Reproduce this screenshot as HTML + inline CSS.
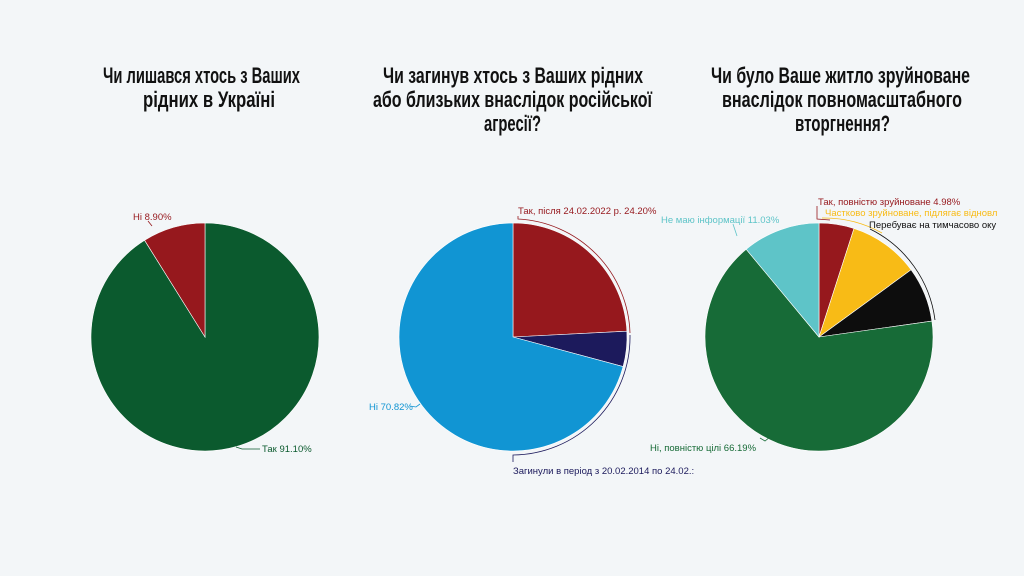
<!DOCTYPE html>
<html><head><meta charset="utf-8"><style>
html,body{margin:0;padding:0;background:#f3f6f8;}
svg{display:block}
.t{font-family:"Liberation Sans Narrow","Liberation Sans",sans-serif;font-weight:900;font-size:22px;fill:#111}
.l{font-family:"Liberation Sans","DejaVu Sans",sans-serif;font-size:9.5px}
</style></head><body>
<svg width="1024" height="576" viewBox="0 0 1024 576">
<rect width="1024" height="576" fill="#f3f6f8"/>
<text class="t" x="103" y="83" textLength="197" lengthAdjust="spacingAndGlyphs">Чи лишався хтось з Ваших</text>
<text class="t" x="143" y="107" textLength="132" lengthAdjust="spacingAndGlyphs">рідних в Україні</text>
<text class="t" x="383" y="83" textLength="260" lengthAdjust="spacingAndGlyphs">Чи загинув хтось з Ваших рідних</text>
<text class="t" x="373" y="107" textLength="279" lengthAdjust="spacingAndGlyphs">або близьких внаслідок російської</text>
<text class="t" x="484" y="131" textLength="57" lengthAdjust="spacingAndGlyphs">агресії?</text>
<text class="t" x="711" y="83" textLength="259" lengthAdjust="spacingAndGlyphs">Чи було Ваше житло зруйноване</text>
<text class="t" x="722" y="107" textLength="240" lengthAdjust="spacingAndGlyphs">внаслідок повномасштабного</text>
<text class="t" x="795" y="131" textLength="95" lengthAdjust="spacingAndGlyphs">вторгнення?</text>

<g stroke="#fff" stroke-width="0.6">
<path d="M205,337 L205,223 A114,114 0 1 1 144.6,240.3 Z" fill="#0b5a2e"/>
<path d="M205,337 L144.6,240.3 A114,114 0 0 1 205,223 Z" fill="#96181d"/>

<path d="M513,337 L513,223 A114,114 0 0 1 626.9,331.2 Z" fill="#96181d"/>
<path d="M513,337 L626.9,331.2 A114,114 0 0 1 623.1,366.6 Z" fill="#1c1a5c"/>
<path d="M513,337 L623.1,366.6 A114,114 0 1 1 513,223 Z" fill="#1195d3"/>

<path d="M819,337 L819,223 A114,114 0 0 1 854.0,228.5 Z" fill="#96181d"/>
<path d="M819,337 L854.0,228.5 A114,114 0 0 1 911.1,269.8 Z" fill="#f8bb16"/>
<path d="M819,337 L911.1,269.8 A114,114 0 0 1 931.9,321.1 Z" fill="#0d0d0d"/>
<path d="M819,337 L931.9,321.1 A114,114 0 1 1 746.2,249.3 Z" fill="#176b37"/>
<path d="M819,337 L746.2,249.3 A114,114 0 0 1 819,223 Z" fill="#5ec4c8"/>
</g>

<g fill="none" stroke-width="0.8">
<path d="M148,221 L152,226" stroke="#96181d"/>
<path d="M236,447 L242,449 L260,449" stroke="#0b5a2e"/>
<path d="M518,216 L518,219 A118,118 0 0 1 630,333" stroke="#96181d"/>
<path d="M630,335 A118,118 0 0 1 513,455 L513,462" stroke="#1c1a5c"/>
<path d="M410,406 L416,407 L420,404" stroke="#1195d3"/>
<path d="M733,224 L737,236" stroke="#5ec4c8"/>
<path d="M817,206 L817,219 L830,220" stroke="#96181d"/>
<path d="M822,218 A118,118 0 0 1 882,233" stroke="#f8bb16"/>
<path d="M870,229 A118,118 0 0 1 935,320" stroke="#0d0d0d"/>
<path d="M760,438 L765,441 L770,437" stroke="#176b37"/>
</g>

<g class="l">
<text x="133" y="220" fill="#96181d">Ні 8.90%</text>
<text x="262" y="452" fill="#0b5a2e">Так 91.10%</text>
<text x="518" y="214" fill="#96181d">Так, після 24.02.2022 р. 24.20%</text>
<text x="369" y="410" fill="#1195d3">Ні 70.82%</text>
<text x="513" y="474" fill="#1c1a5c">Загинули в період з 20.02.2014 по 24.02.:</text>
<text x="661" y="223" fill="#5ec4c8">Не маю інформації 11.03%</text>
<text x="818" y="205" fill="#96181d">Так, повністю зруйноване 4.98%</text>
<text x="825" y="216" fill="#f8bb16">Частково зруйноване, підлягає відновл</text>
<text x="869" y="228" fill="#111">Перебуває на тимчасово оку</text>
<text x="650" y="451" fill="#176b37">Ні, повністю цілі 66.19%</text>
</g>
</svg>
</body></html>
